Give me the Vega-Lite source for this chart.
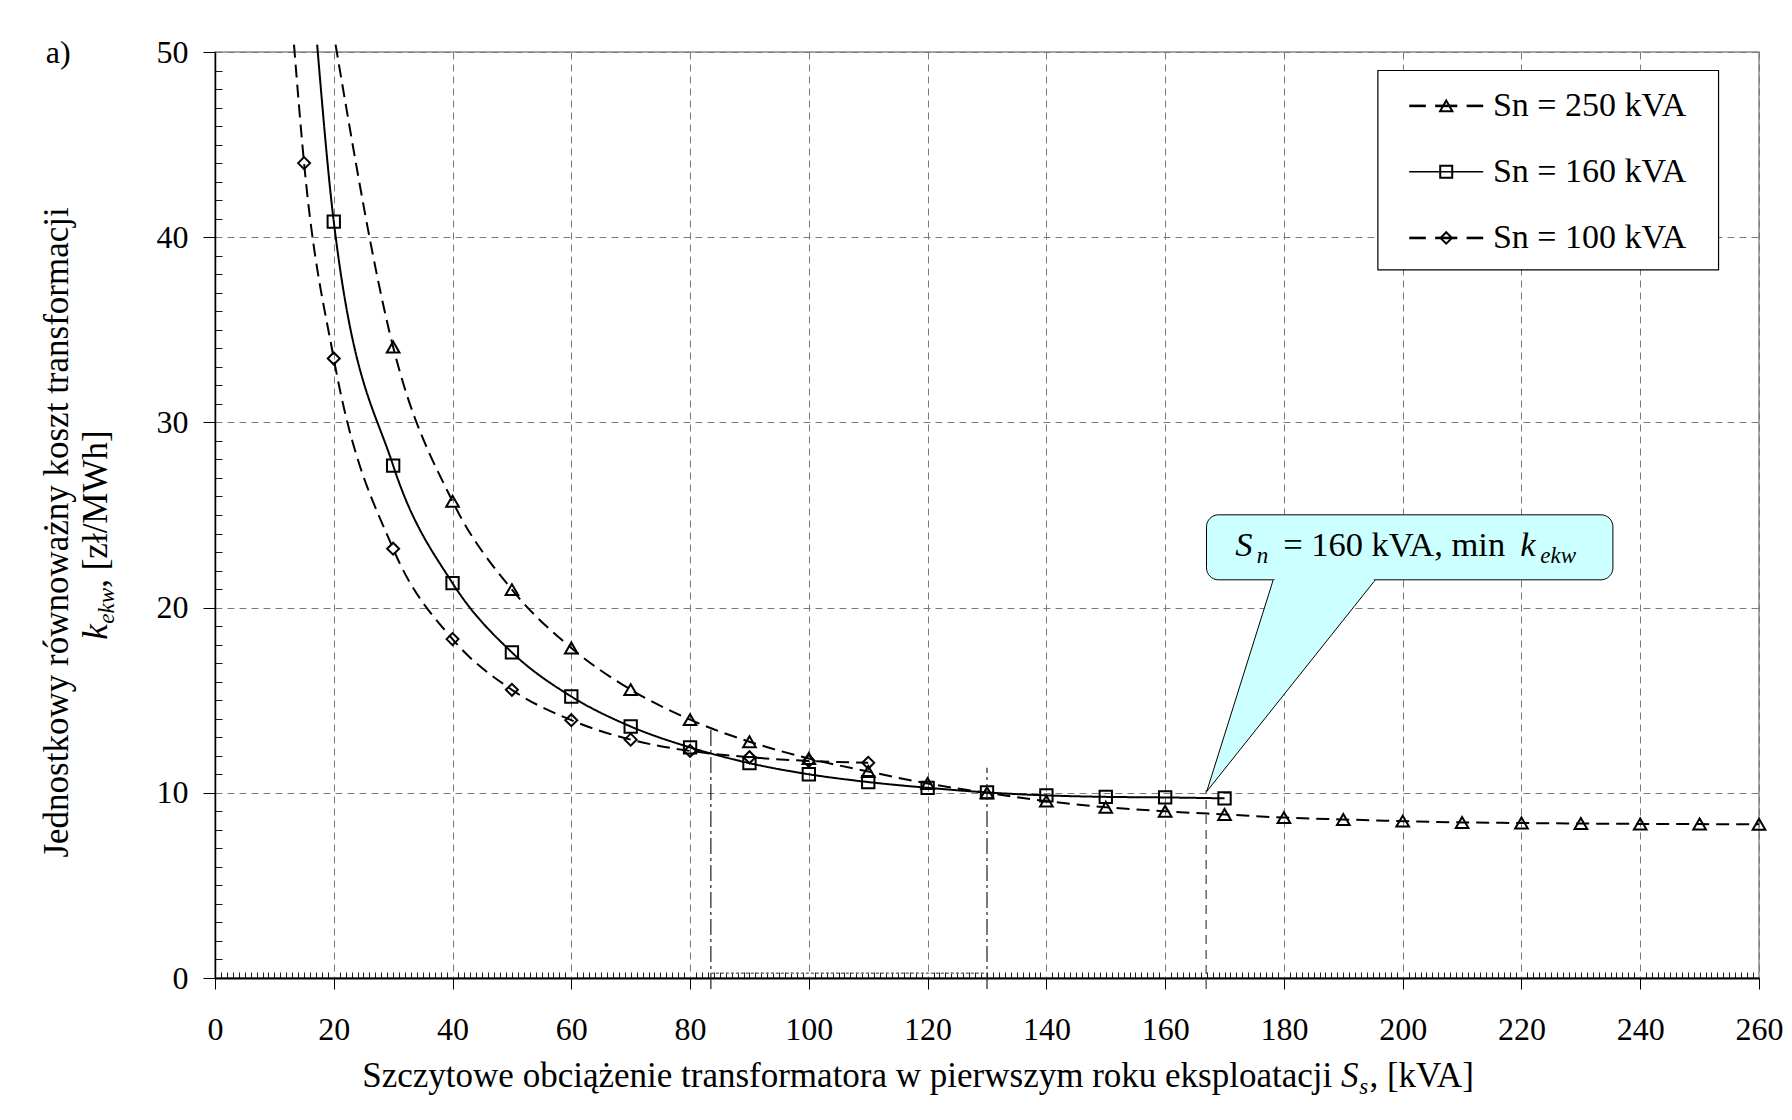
{
  "$schema": "https://vega.github.io/schema/vega-lite/v6.json",
  "width": 1544,
  "height": 926,
  "autosize": {"type": "none"},
  "padding": {"left": 215, "top": 52, "right": 33, "bottom": 142},
  "background": "white",
  "config": {
    "font": "Liberation Serif",
    "view": {"stroke": "#8a8a8a", "strokeWidth": 1.5},
    "text": {"font": "Liberation Serif", "color": "black"},
    "axis": {"labelFont": "Liberation Serif", "labelColor": "black", "domainColor": "black", "tickColor": "black"}
  },
  "datasets": {
    "curves": [
      {"series": "Sn = 250 kVA", "S": 20.3, "k": 50.4},
      {"series": "Sn = 250 kVA", "S": 30, "k": 34.07},
      {"series": "Sn = 250 kVA", "S": 40, "k": 25.74},
      {"series": "Sn = 250 kVA", "S": 50, "k": 20.97},
      {"series": "Sn = 250 kVA", "S": 60, "k": 17.82},
      {"series": "Sn = 250 kVA", "S": 70, "k": 15.57},
      {"series": "Sn = 250 kVA", "S": 80, "k": 13.95},
      {"series": "Sn = 250 kVA", "S": 90, "k": 12.76},
      {"series": "Sn = 250 kVA", "S": 100, "k": 11.85},
      {"series": "Sn = 250 kVA", "S": 110, "k": 11.15},
      {"series": "Sn = 250 kVA", "S": 120, "k": 10.5},
      {"series": "Sn = 250 kVA", "S": 130, "k": 10.0},
      {"series": "Sn = 250 kVA", "S": 140, "k": 9.55},
      {"series": "Sn = 250 kVA", "S": 150, "k": 9.22},
      {"series": "Sn = 250 kVA", "S": 160, "k": 9.0},
      {"series": "Sn = 250 kVA", "S": 170, "k": 8.83},
      {"series": "Sn = 250 kVA", "S": 180, "k": 8.66},
      {"series": "Sn = 250 kVA", "S": 190, "k": 8.56},
      {"series": "Sn = 250 kVA", "S": 200, "k": 8.47},
      {"series": "Sn = 250 kVA", "S": 210, "k": 8.4},
      {"series": "Sn = 250 kVA", "S": 220, "k": 8.37},
      {"series": "Sn = 250 kVA", "S": 230, "k": 8.34},
      {"series": "Sn = 250 kVA", "S": 240, "k": 8.32},
      {"series": "Sn = 250 kVA", "S": 250, "k": 8.31},
      {"series": "Sn = 250 kVA", "S": 260, "k": 8.3},
      {"series": "Sn = 160 kVA", "S": 17.2, "k": 50.4},
      {"series": "Sn = 160 kVA", "S": 20, "k": 40.84},
      {"series": "Sn = 160 kVA", "S": 30, "k": 27.67},
      {"series": "Sn = 160 kVA", "S": 40, "k": 21.32},
      {"series": "Sn = 160 kVA", "S": 50, "k": 17.58},
      {"series": "Sn = 160 kVA", "S": 60, "k": 15.2},
      {"series": "Sn = 160 kVA", "S": 70, "k": 13.58},
      {"series": "Sn = 160 kVA", "S": 80, "k": 12.45},
      {"series": "Sn = 160 kVA", "S": 90, "k": 11.6},
      {"series": "Sn = 160 kVA", "S": 100, "k": 11.0},
      {"series": "Sn = 160 kVA", "S": 110, "k": 10.58},
      {"series": "Sn = 160 kVA", "S": 120, "k": 10.27},
      {"series": "Sn = 160 kVA", "S": 130, "k": 10.02},
      {"series": "Sn = 160 kVA", "S": 140, "k": 9.86},
      {"series": "Sn = 160 kVA", "S": 150, "k": 9.78},
      {"series": "Sn = 160 kVA", "S": 160, "k": 9.75},
      {"series": "Sn = 160 kVA", "S": 170, "k": 9.7},
      {"series": "Sn = 100 kVA", "S": 13.3, "k": 50.4},
      {"series": "Sn = 100 kVA", "S": 15, "k": 44.0},
      {"series": "Sn = 100 kVA", "S": 20, "k": 33.45},
      {"series": "Sn = 100 kVA", "S": 30, "k": 23.18},
      {"series": "Sn = 100 kVA", "S": 40, "k": 18.3},
      {"series": "Sn = 100 kVA", "S": 50, "k": 15.56},
      {"series": "Sn = 100 kVA", "S": 60, "k": 13.92},
      {"series": "Sn = 100 kVA", "S": 70, "k": 12.87},
      {"series": "Sn = 100 kVA", "S": 80, "k": 12.26},
      {"series": "Sn = 100 kVA", "S": 90, "k": 11.92},
      {"series": "Sn = 100 kVA", "S": 100, "k": 11.72},
      {"series": "Sn = 100 kVA", "S": 110, "k": 11.62}
    ],
    "pointer": [
      {"px": 178.2, "py": 21.5, "o": 1},
      {"px": 167.0, "py": 10.07, "o": 2},
      {"px": 195.4, "py": 21.5, "o": 3}
    ]
  },
  "layer": [
    {
      "data": {"name": "curves"},
      "mark": {"type": "line", "interpolate": "monotone", "strokeWidth": 2, "color": "black"},
      "encoding": {
        "x": {
          "field": "S", "type": "quantitative",
          "scale": {"domain": [0, 260], "nice": false, "zero": false},
          "axis": {
            "title": null,
            "tickCount": 260,
            "labelExpr": "datum.value % 20 === 0 ? datum.label : ''",
            "labelOverlap": false, "labelFlush": false, "labelBound": false,
            "labelFont": "Liberation Serif", "labelFontSize": 32, "labelPadding": 25.5,
            "domainWidth": 2,
            "tickSize": 11, "tickWidth": 1,
            "tickOpacity": {"condition": {"test": "datum.value % 20 === 0", "value": 1}, "value": 0},
            "grid": true,
            "gridColor": {"condition": {"test": "datum.value % 20 === 0", "value": "#7a7a7a"}, "value": "#1a1a1a"},
            "gridDash": {"condition": {"test": "datum.value % 20 === 0", "value": [7, 5]}, "value": [0, 920, 6, 100]},
            "gridOpacity": 1, "gridWidth": 1
          }
        },
        "y": {
          "field": "k", "type": "quantitative",
          "scale": {"domain": [0, 50], "nice": false},
          "axis": {
            "title": null,
            "tickCount": 50,
            "labelExpr": "datum.value % 10 === 0 ? datum.label : ''",
            "labelOverlap": false, "labelFlush": false, "labelBound": false,
            "labelFont": "Liberation Serif", "labelFontSize": 32, "labelPadding": 15,
            "domainWidth": 1.5,
            "tickSize": 12, "tickWidth": 1,
            "tickOpacity": {"condition": {"test": "datum.value % 10 === 0", "value": 1}, "value": 0},
            "grid": true,
            "gridColor": {"condition": {"test": "datum.value % 10 === 0", "value": "#7a7a7a"}, "value": "#1a1a1a"},
            "gridDash": {"condition": {"test": "datum.value % 10 === 0", "value": [7, 5]}, "value": [7, 3000]},
            "gridOpacity": 1, "gridWidth": 1
          }
        },
        "detail": {"field": "series"},
        "strokeDash": {
          "field": "series", "type": "nominal",
          "scale": {"domain": ["Sn = 250 kVA", "Sn = 160 kVA", "Sn = 100 kVA"], "range": [[13, 7], [1, 0], [13, 7]]},
          "legend": null
        }
      }
    },
    {
      "data": {"name": "curves"},
      "transform": [{"filter": "datum.k <= 50"}],
      "mark": {"type": "point", "filled": false, "color": "black", "strokeWidth": 2, "opacity": 1},
      "encoding": {
        "x": {"field": "S", "type": "quantitative"},
        "y": {"field": "k", "type": "quantitative"},
        "shape": {
          "field": "series", "type": "nominal",
          "scale": {"domain": ["Sn = 250 kVA", "Sn = 160 kVA", "Sn = 100 kVA"], "range": ["triangle-up", "square", "diamond"]},
          "legend": null
        },
        "size": {
          "field": "series", "type": "nominal",
          "scale": {"domain": ["Sn = 250 kVA", "Sn = 160 kVA", "Sn = 100 kVA"], "range": [160, 144, 130]},
          "legend": null
        }
      }
    },
    {
      "data": {"values": [{}]},
      "mark": {"type": "rule", "stroke": "#202020", "strokeWidth": 1.2, "strokeDash": [16, 4, 3, 4]},
      "encoding": {"x": {"datum": 83.5}, "y": {"datum": -0.6}, "y2": {"datum": 13.6}}
    },
    {
      "data": {"values": [{}]},
      "mark": {"type": "rule", "stroke": "#202020", "strokeWidth": 1.2, "strokeDash": [16, 4, 3, 4]},
      "encoding": {"x": {"datum": 130}, "y": {"datum": -0.6}, "y2": {"datum": 11.35}}
    },
    {
      "data": {"values": [{}]},
      "mark": {"type": "rule", "stroke": "#404040", "strokeWidth": 1.2, "strokeDash": [9, 6]},
      "encoding": {"x": {"datum": 166.9}, "y": {"datum": -0.6}, "y2": {"datum": 10.14}}
    },
    {
      "data": {"values": [{}]},
      "mark": {"type": "rule", "stroke": "#777777", "strokeWidth": 1.5, "strokeDash": [3, 2]},
      "encoding": {"x": {"datum": 83.5}, "x2": {"datum": 130}, "y": {"datum": 0.25}}
    },
    {
      "data": {"values": [{}]},
      "mark": {"type": "rect", "fill": "white", "stroke": "black", "strokeWidth": 1.2},
      "encoding": {"x": {"datum": 195.82}, "x2": {"datum": 253.19}, "y": {"datum": 49.0}, "y2": {"datum": 38.24}}
    },
    {
      "data": {"values": [{}]},
      "mark": {"type": "rule", "stroke": "black", "strokeWidth": 2.6},
      "encoding": {"x": {"datum": 201.1}, "x2": {"datum": 203.9}, "y": {"datum": 47.09}}
    },
    {
      "data": {"values": [{}]},
      "mark": {"type": "rule", "stroke": "black", "strokeWidth": 2.6},
      "encoding": {"x": {"datum": 205.46}, "x2": {"datum": 209.2}, "y": {"datum": 47.09}}
    },
    {
      "data": {"values": [{}]},
      "mark": {"type": "rule", "stroke": "black", "strokeWidth": 2.6},
      "encoding": {"x": {"datum": 210.76}, "x2": {"datum": 213.56}, "y": {"datum": 47.09}}
    },
    {
      "data": {"values": [{}]},
      "mark": {"type": "rule", "stroke": "black", "strokeWidth": 1.6},
      "encoding": {"x": {"datum": 201.1}, "x2": {"datum": 213.56}, "y": {"datum": 43.53}}
    },
    {
      "data": {"values": [{}]},
      "mark": {"type": "rule", "stroke": "black", "strokeWidth": 2.6},
      "encoding": {"x": {"datum": 201.1}, "x2": {"datum": 203.9}, "y": {"datum": 39.96}}
    },
    {
      "data": {"values": [{}]},
      "mark": {"type": "rule", "stroke": "black", "strokeWidth": 2.6},
      "encoding": {"x": {"datum": 205.46}, "x2": {"datum": 209.2}, "y": {"datum": 39.96}}
    },
    {
      "data": {"values": [{}]},
      "mark": {"type": "rule", "stroke": "black", "strokeWidth": 2.6},
      "encoding": {"x": {"datum": 210.76}, "x2": {"datum": 213.56}, "y": {"datum": 39.96}}
    },
    {
      "data": {"values": [{}]},
      "mark": {"type": "point", "shape": "triangle-up", "size": 150, "filled": false, "color": "black", "strokeWidth": 2, "opacity": 1},
      "encoding": {"x": {"datum": 207.33}, "y": {"datum": 47.09}}
    },
    {
      "data": {"values": [{}]},
      "mark": {"type": "point", "shape": "square", "size": 144, "filled": false, "color": "black", "strokeWidth": 2, "opacity": 1},
      "encoding": {"x": {"datum": 207.33}, "y": {"datum": 43.53}}
    },
    {
      "data": {"values": [{}]},
      "mark": {"type": "point", "shape": "diamond", "size": 130, "filled": false, "color": "black", "strokeWidth": 2, "opacity": 1},
      "encoding": {"x": {"datum": 207.33}, "y": {"datum": 39.96}}
    },
    {
      "data": {"values": [{}]},
      "mark": {"type": "text", "text": "Sn = 250 kVA", "font": "Liberation Serif", "fontSize": 34, "align": "left", "baseline": "middle"},
      "encoding": {"x": {"datum": 215.19}, "y": {"datum": 47.09}}
    },
    {
      "data": {"values": [{}]},
      "mark": {"type": "text", "text": "Sn = 160 kVA", "font": "Liberation Serif", "fontSize": 34, "align": "left", "baseline": "middle"},
      "encoding": {"x": {"datum": 215.19}, "y": {"datum": 43.53}}
    },
    {
      "data": {"values": [{}]},
      "mark": {"type": "text", "text": "Sn = 100 kVA", "font": "Liberation Serif", "fontSize": 34, "align": "left", "baseline": "middle"},
      "encoding": {"x": {"datum": 215.19}, "y": {"datum": 39.96}}
    },
    {
      "data": {"values": [{}]},
      "mark": {"type": "rect", "fill": "#ccffff", "stroke": "black", "strokeWidth": 1, "cornerRadius": 12},
      "encoding": {"x": {"datum": 166.96}, "x2": {"datum": 235.4}, "y": {"datum": 25.01}, "y2": {"datum": 21.5}}
    },
    {
      "data": {"name": "pointer"},
      "mark": {"type": "line", "fill": "#ccffff", "stroke": "black", "strokeWidth": 1, "interpolate": "linear"},
      "encoding": {
        "x": {"field": "px", "type": "quantitative"},
        "y": {"field": "py", "type": "quantitative"},
        "order": {"field": "o", "type": "quantitative"}
      }
    },
    {
      "data": {"values": [{}]},
      "mark": {"type": "rect", "fill": "#ccffff", "strokeWidth": 0},
      "encoding": {"x": {"datum": 178.5}, "x2": {"datum": 195.1}, "y": {"datum": 21.62}, "y2": {"datum": 21.38}}
    },
    {
      "data": {"values": [{}]},
      "mark": {"type": "text", "text": "S", "font": "Liberation Serif", "fontStyle": "italic", "fontSize": 34.5, "align": "left", "baseline": "alphabetic"},
      "encoding": {"x": {"datum": 171.79}, "y": {"datum": 22.76}}
    },
    {
      "data": {"values": [{}]},
      "mark": {"type": "text", "text": "n", "font": "Liberation Serif", "fontStyle": "italic", "fontSize": 23, "align": "left", "baseline": "alphabetic"},
      "encoding": {"x": {"datum": 175.44}, "y": {"datum": 22.39}}
    },
    {
      "data": {"values": [{}]},
      "mark": {"type": "text", "text": "= 160 kVA, min", "font": "Liberation Serif", "fontSize": 34.5, "align": "left", "baseline": "alphabetic"},
      "encoding": {"x": {"datum": 179.87}, "y": {"datum": 22.76}}
    },
    {
      "data": {"values": [{}]},
      "mark": {"type": "text", "text": "k", "font": "Liberation Serif", "fontStyle": "italic", "fontSize": 34.5, "align": "left", "baseline": "alphabetic"},
      "encoding": {"x": {"datum": 219.79}, "y": {"datum": 22.76}}
    },
    {
      "data": {"values": [{}]},
      "mark": {"type": "text", "text": "ekw", "font": "Liberation Serif", "fontStyle": "italic", "fontSize": 23, "align": "left", "baseline": "alphabetic"},
      "encoding": {"x": {"datum": 223.16}, "y": {"datum": 22.39}}
    },
    {
      "data": {"values": [{}]},
      "mark": {"type": "text", "text": "a)", "font": "Liberation Serif", "fontSize": 32, "align": "left", "baseline": "alphabetic"},
      "encoding": {"x": {"datum": -28.5}, "y": {"datum": 49.42}}
    },
    {
      "data": {"values": [{}]},
      "mark": {"type": "text", "text": "Jednostkowy równoważny koszt transformacji", "font": "Liberation Serif", "fontSize": 35, "angle": 270, "align": "center", "baseline": "alphabetic"},
      "encoding": {"x": {"datum": -24.76}, "y": {"datum": 24.06}}
    },
    {
      "data": {"values": [{}]},
      "mark": {"type": "text", "text": "k", "font": "Liberation Serif", "fontStyle": "italic", "fontSize": 35, "angle": 270, "align": "left", "baseline": "alphabetic"},
      "encoding": {"x": {"datum": -18.19}, "y": {"datum": 18.26}}
    },
    {
      "data": {"values": [{}]},
      "mark": {"type": "text", "text": "ekw", "font": "Liberation Serif", "fontStyle": "italic", "fontSize": 23, "angle": 270, "align": "left", "baseline": "alphabetic"},
      "encoding": {"x": {"datum": -17.01}, "y": {"datum": 19.13}}
    },
    {
      "data": {"values": [{}]},
      "mark": {"type": "text", "text": ", [zł/MWh]", "font": "Liberation Serif", "fontSize": 35, "angle": 270, "align": "left", "baseline": "alphabetic"},
      "encoding": {"x": {"datum": -18.19}, "y": {"datum": 21.07}}
    },
    {
      "data": {"values": [{}]},
      "mark": {"type": "text", "text": "Szczytowe obciążenie transformatora w pierwszym roku eksploatacji", "font": "Liberation Serif", "fontSize": 35, "align": "right", "baseline": "alphabetic"},
      "encoding": {"x": {"datum": 188.13}, "y": {"datum": -5.9}}
    },
    {
      "data": {"values": [{}]},
      "mark": {"type": "text", "text": "S", "font": "Liberation Serif", "fontStyle": "italic", "fontSize": 35, "align": "left", "baseline": "alphabetic"},
      "encoding": {"x": {"datum": 189.6}, "y": {"datum": -5.9}}
    },
    {
      "data": {"values": [{}]},
      "mark": {"type": "text", "text": "s", "font": "Liberation Serif", "fontStyle": "italic", "fontSize": 23, "align": "left", "baseline": "alphabetic"},
      "encoding": {"x": {"datum": 192.7}, "y": {"datum": -6.28}}
    },
    {
      "data": {"values": [{}]},
      "mark": {"type": "text", "text": ", [kVA]", "font": "Liberation Serif", "fontSize": 35, "align": "left", "baseline": "alphabetic"},
      "encoding": {"x": {"datum": 194.4}, "y": {"datum": -5.9}}
    }
  ]
}
